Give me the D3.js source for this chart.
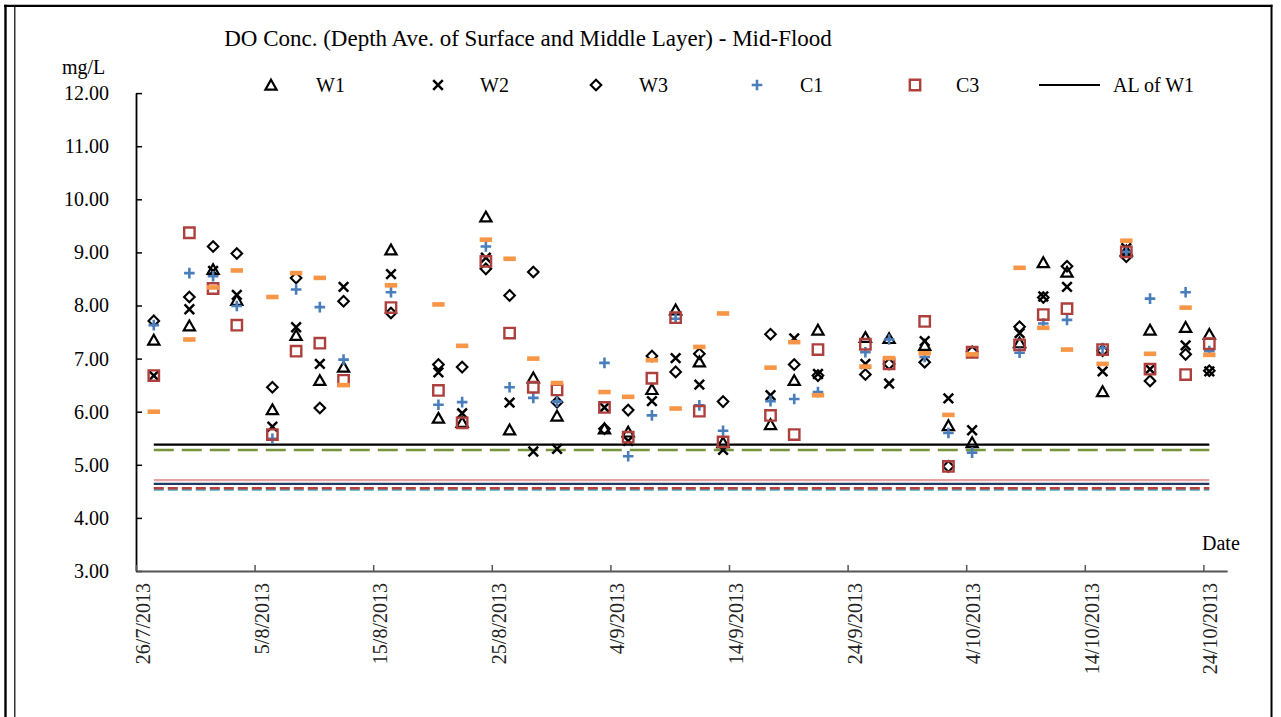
<!DOCTYPE html>
<html>
<head>
<meta charset="utf-8">
<script src="https://cdn.jsdelivr.net/npm/d3@7"></script>
<style>
  html, body { margin: 0; padding: 0; background: #fff; }
  svg { display: block; }
</style>
</head>
<body>
<svg id="chart" width="1281" height="717"></svg>
<script>
// ---- data -----------------------------------------------------------
const sampleDates = [
  "2013-07-27","2013-07-30","2013-08-01","2013-08-03","2013-08-06","2013-08-08",
  "2013-08-10","2013-08-12","2013-08-16","2013-08-20","2013-08-22","2013-08-24",
  "2013-08-26","2013-08-28","2013-08-30","2013-09-03","2013-09-05","2013-09-07",
  "2013-09-09","2013-09-11","2013-09-13","2013-09-17","2013-09-19","2013-09-21",
  "2013-09-25","2013-09-27","2013-09-30","2013-10-02","2013-10-04","2013-10-08",
  "2013-10-10","2013-10-12","2013-10-15","2013-10-17","2013-10-19","2013-10-22",
  "2013-10-24"
];

const W1 = [7.35,7.62,8.68,8.10,6.04,7.44,6.59,6.84,9.05,5.88,5.80,9.67,5.66,6.64,5.92,5.68,5.62,6.42,
            7.92,6.94,5.42,5.76,6.59,7.54,7.40,7.38,7.25,5.74,5.42,7.30,8.81,8.63,6.38,9.03,7.54,7.59,7.46];
const W2 = [6.68,7.93,8.65,8.20,5.72,7.59,6.90,8.35,8.59,6.74,5.97,8.90,6.17,5.25,5.30,6.08,5.45,6.20,
            7.01,6.51,5.28,6.31,7.38,6.71,6.90,6.53,7.33,6.25,5.65,7.48,8.17,8.35,6.76,9.08,6.80,7.25,6.76];
const W3 = [7.71,8.16,9.11,8.98,6.46,8.52,6.07,8.08,7.86,6.89,6.84,8.69,8.19,8.63,6.18,5.68,6.03,7.05,
            6.75,7.09,6.19,7.46,6.89,6.68,6.70,6.90,6.93,4.97,7.13,7.60,8.15,8.74,7.15,8.92,6.58,7.08,6.77];
const C1 = [7.63,8.61,8.55,7.99,5.49,8.30,7.97,6.98,8.25,6.13,6.18,9.11,6.46,6.26,6.19,6.92,5.16,5.93,
            7.75,6.12,5.64,6.20,6.24,6.37,7.12,7.36,7.03,5.60,5.23,7.11,7.66,7.73,7.20,9.01,8.13,8.25,7.14];
const C2 = [6.00,7.36,8.34,8.66,8.16,8.61,8.52,6.50,8.38,8.02,7.24,9.24,8.88,7.00,6.54,6.37,6.28,6.97,
            6.06,7.22,7.85,6.83,7.31,6.31,6.85,7.01,7.10,5.94,7.08,8.71,7.58,7.17,6.90,9.22,7.09,7.96,7.07];
const C3 = [6.68,9.37,8.32,7.63,5.57,7.14,7.29,6.59,7.96,6.40,5.79,8.83,7.48,6.46,6.41,6.08,5.52,6.63,
            7.77,6.01,5.43,5.93,5.57,7.17,7.27,6.90,7.70,4.97,7.12,7.26,7.83,7.94,7.17,9.01,6.80,6.70,7.28];

// action levels drawn as flat lines across the sampling period
const actionLevels = [5.38, 5.28, 4.71, 4.64, 4.56, 4.53];

const yTickValues = [3, 4, 5, 6, 7, 8, 9, 10, 11, 12];
const xTickLabels = ["26/7/2013","5/8/2013","15/8/2013","25/8/2013","4/9/2013",
                     "14/9/2013","24/9/2013","4/10/2013","14/10/2013","24/10/2013"];

const legendNames = ["W1", "W2", "W3", "C1", "C3", "AL of W1"];

// ---- styling --------------------------------------------------------
const serif = "'Liberation Serif','Times New Roman',Times,serif";
const labelSize = 20;
const alStyles = [
  { stroke: "#000000", width: 2.2, dash: null },
  { stroke: "#77933c", width: 2.5, dash: "20 8" },
  { stroke: "#e6a3a2", width: 2.2, dash: null },
  { stroke: "#1f3a63", width: 2.2, dash: null },
  { stroke: "#b8403d", width: 2.5, dash: "10 4" },
  { stroke: "#4bacc6", width: 2.2, dash: "10 4" }
];

// ---- scales ---------------------------------------------------------
const parse = d3.utcParse("%Y-%m-%d");
const axisStart = parse("2013-07-26");
const axisEnd = parse("2013-10-26");
const x0 = 136, dayPx = 11.86;
const x = d3.scaleUtc().domain([axisStart, axisEnd]).range([x0, x0 + 92 * dayPx]);
const y = d3.scaleLinear().domain([3, 12]).range([571, 93.1]);

// each sample sits in the middle of its day slot
const xc = s => x(d3.utcHour.offset(parse(s), 12));
const tickDates = xTickLabels.map((_, i) => d3.utcDay.offset(axisStart, i * 10));

const svg = d3.select("#chart");
svg.append("rect").attr("width", 1281).attr("height", 717).attr("fill", "#fff");

// frame
svg.append("line").attr("x1", 4).attr("x2", 1272.5).attr("y1", 5.8).attr("y2", 5.8)
  .attr("stroke", "#000").attr("stroke-width", 2.2);
svg.append("line").attr("x1", 5.5).attr("x2", 5.5).attr("y1", 4.7).attr("y2", 717)
  .attr("stroke", "#000").attr("stroke-width", 2.4);
svg.append("line").attr("x1", 14.8).attr("x2", 14.8).attr("y1", 5).attr("y2", 717)
  .attr("stroke", "#000").attr("stroke-width", 1.2);
svg.append("line").attr("x1", 1271.5).attr("x2", 1271.5).attr("y1", 4.7).attr("y2", 717)
  .attr("stroke", "#000").attr("stroke-width", 2);

// title
svg.append("text").attr("x", 528).attr("y", 46).attr("text-anchor", "middle")
  .attr("font-family", serif).attr("font-size", 23).attr("fill", "#000")
  .text("DO Conc. (Depth Ave. of Surface and Middle Layer) - Mid-Flood");

svg.append("text").attr("x", 62).attr("y", 74).attr("font-family", serif)
  .attr("font-size", labelSize).text("mg/L");

// ---- axes -----------------------------------------------------------
const yAxis = svg.append("g").attr("transform", `translate(${x0},0)`)
  .call(d3.axisLeft(y).tickValues(yTickValues).tickSize(-6).tickSizeOuter(0)
    .tickPadding(27).tickFormat(d3.format(".2f")));
yAxis.attr("font-family", serif).attr("font-size", labelSize);
yAxis.select(".domain").attr("stroke", "#000").attr("stroke-width", 1.8);
yAxis.selectAll(".tick line").attr("stroke", "#000").attr("stroke-width", 1.5);
yAxis.selectAll(".tick text").attr("fill", "#000");

const xAxis = svg.append("g").attr("transform", "translate(0,571)")
  .call(d3.axisBottom(x).tickValues(tickDates).tickSize(-6).tickSizeOuter(0).tickFormat(""));
xAxis.select(".domain").attr("stroke", "#555").attr("stroke-width", 2);
xAxis.selectAll(".tick line").attr("stroke", "#555").attr("stroke-width", 1.5);

svg.append("g").selectAll("text").data(tickDates).join("text")
  .attr("transform", (d, i) => `translate(${x(d) + 14},583) rotate(-90)`)
  .attr("text-anchor", "end").attr("font-family", serif).attr("font-size", labelSize)
  .attr("fill", "#222")
  .text((d, i) => xTickLabels[i]);

svg.append("text").attr("x", 1202).attr("y", 550).attr("font-family", serif)
  .attr("font-size", labelSize).text("Date");

// ---- action level lines ---------------------------------------------
const xFirst = xc(sampleDates[0]), xLast = xc(sampleDates[sampleDates.length - 1]);
const alOrder = [2, 3, 5, 4, 1, 0]; // paint order, black on top
svg.append("g").selectAll("line").data(alOrder).join("line")
  .attr("x1", xFirst).attr("x2", xLast)
  .attr("y1", i => y(actionLevels[i])).attr("y2", i => y(actionLevels[i]))
  .attr("stroke", i => alStyles[i].stroke)
  .attr("stroke-width", i => alStyles[i].width)
  .attr("stroke-dasharray", i => alStyles[i].dash);

// ---- marker shapes ----------------------------------------------------
const shapes = {
  triangle: { d: "M0,-5.2L5.6,4.6L-5.6,4.6Z", stroke: "#000", width: 2.2, fill: "none" },
  cross: { d: "M-4.8,-4.8L4.8,4.8M-4.8,4.8L4.8,-4.8", stroke: "#000", width: 2.5, fill: "none" },
  diamond: { d: "M0,-5.3L5.3,0L0,5.3L-5.3,0Z", stroke: "#000", width: 2.1, fill: "none" },
  plus: { d: "M-5.3,0H5.3M0,-5.3V5.3", stroke: "#4a7ebb", width: 2.6, fill: "none" },
  square: { d: "M-5.2,-5.2H5.2V5.2H-5.2Z", stroke: "#ad403d", width: 2.4, fill: "none" },
  dash: { d: "M-6.2,-2.3H6.2V2.3H-6.2Z", stroke: "none", width: 0, fill: "#f79646" }
};

const seriesList = [
  { values: W1, shape: "triangle" },
  { values: W2, shape: "cross" },
  { values: W3, shape: "diamond" },
  { values: C1, shape: "plus" },
  { values: C3, shape: "square" },
  { values: C2, shape: "dash" }
];

function drawMarker(sel, shapeName) {
  const s = shapes[shapeName];
  return sel.append("path").attr("d", s.d)
    .attr("fill", s.fill).attr("stroke", s.stroke).attr("stroke-width", s.width)
    .attr("stroke-linejoin", "miter");
}

seriesList.forEach(series => {
  const g = svg.append("g");
  const pts = g.selectAll("g").data(series.values).join("g")
    .attr("transform", (v, i) => `translate(${xc(sampleDates[i])},${y(v)})`);
  pts.each(function () { drawMarker(d3.select(this), series.shape); });
});

// ---- legend -----------------------------------------------------------
const legendY = 85;
const legendItems = [
  { name: legendNames[0], shape: "triangle", mx: 271, tx: 316 },
  { name: legendNames[1], shape: "cross", mx: 438, tx: 480 },
  { name: legendNames[2], shape: "diamond", mx: 596, tx: 639 },
  { name: legendNames[3], shape: "plus", mx: 757, tx: 800 },
  { name: legendNames[4], shape: "square", mx: 915, tx: 956 }
];
const lg = svg.append("g");
legendItems.forEach(it => {
  drawMarker(lg.append("g").attr("transform", `translate(${it.mx},${legendY})`), it.shape);
  lg.append("text").attr("x", it.tx).attr("y", legendY + 7).attr("font-family", serif)
    .attr("font-size", labelSize).text(it.name);
});
lg.append("line").attr("x1", 1039).attr("x2", 1100).attr("y1", legendY).attr("y2", legendY)
  .attr("stroke", alStyles[0].stroke).attr("stroke-width", alStyles[0].width);
lg.append("text").attr("x", 1113).attr("y", legendY + 7).attr("font-family", serif)
  .attr("font-size", labelSize).text(legendNames[5]);
</script>
</body>
</html>
